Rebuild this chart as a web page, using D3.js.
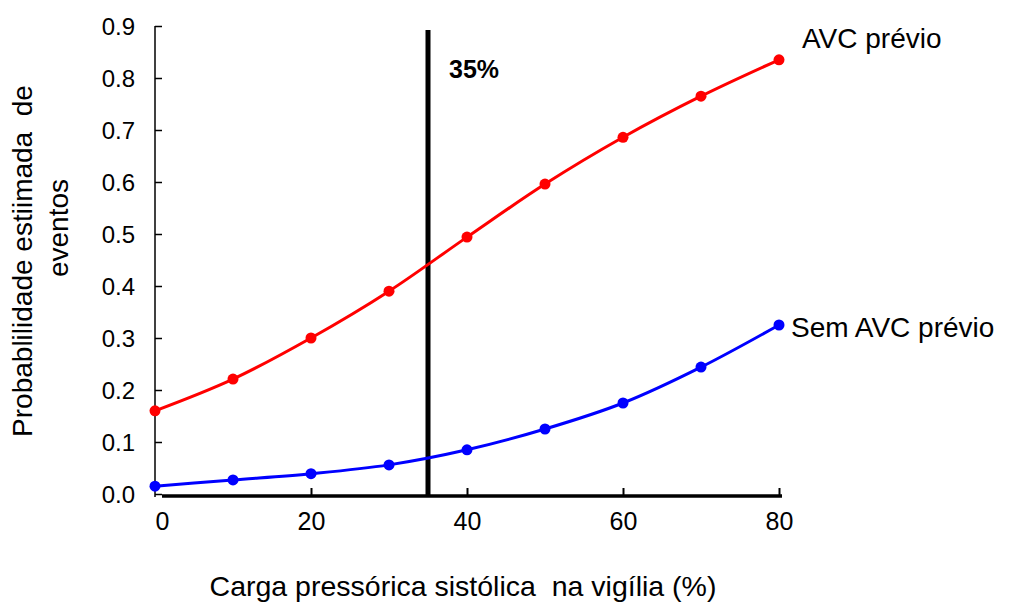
<!DOCTYPE html>
<html>
<head>
<meta charset="utf-8">
<script src="https://cdn.jsdelivr.net/npm/d3@7"></script>
<style>
  body { margin: 0; background: #fff; }
  svg { font-family: "Liberation Sans", Arial, sans-serif; }
</style>
</head>
<body>
<div id="chart"></div>
<script>
// Data
var cargas = [0, 10, 20, 30, 40, 50, 60, 70, 80];
var comAVC = [0.16, 0.221, 0.30, 0.39, 0.494, 0.596, 0.686, 0.765, 0.835];
var semAVC = [0.015, 0.027, 0.039, 0.056, 0.085, 0.125, 0.175, 0.244, 0.325];
var xTicks = [0, 20, 40, 60, 80];
var yTicks = [0, 0.1, 0.2, 0.3, 0.4, 0.5, 0.6, 0.7, 0.8, 0.9];
var corte = 35;

var width = 1009, height = 603;

var svg = d3.select('#chart').append('svg')
  .attr('width', width)
  .attr('height', height);

var x = d3.scaleLinear().domain([0, 80]).range([155, 779]);
var y = d3.scaleLinear().domain([0, 0.9]).range([494, 26]);

// Y axis: thin line, ticks pointing inward
var yAxis = svg.append('g')
  .attr('transform', 'translate(155,0)')
  .call(d3.axisRight(y).tickValues(yTicks).tickFormat(d3.format('.1f')).tickSize(7).tickSizeOuter(0));
yAxis.select('.domain').remove();
yAxis.selectAll('.tick line').attr('stroke', '#000').attr('stroke-width', 1.5);
yAxis.selectAll('.tick text')
  .attr('x', -20).attr('dy', '0.36em').attr('text-anchor', 'end')
  .attr('font-size', 24).attr('fill', '#000');
svg.append('line')
  .attr('x1', 155).attr('x2', 155).attr('y1', y(0.9)).attr('y2', 497)
  .attr('stroke', '#000').attr('stroke-width', 1.5);

// X axis: thick line, ticks pointing up
var xAxis = svg.append('g')
  .attr('transform', 'translate(0,496)')
  .call(d3.axisTop(x).tickValues(xTicks).tickSize(8).tickSizeOuter(0));
xAxis.select('.domain').remove();
xAxis.selectAll('.tick line').attr('stroke', '#000').attr('stroke-width', 2);
xAxis.selectAll('.tick').filter(function (d) { return d === 0; }).select('line').remove();
xAxis.selectAll('.tick text')
  .attr('y', 34).attr('dy', 0).attr('font-size', 25).attr('fill', '#000')
  .attr('dx', function (d) { return d === 0 ? 7 : 0; });
svg.append('line')
  .attr('x1', 162).attr('x2', x(80) + 3).attr('y1', 496).attr('y2', 496)
  .attr('stroke', '#000').attr('stroke-width', 3.5);

// Cut-off line at 35%
svg.append('line')
  .attr('x1', x(corte)).attr('x2', x(corte))
  .attr('y1', 30).attr('y2', 496)
  .attr('stroke', '#000').attr('stroke-width', 5);
svg.append('text')
  .attr('x', x(corte) + 21).attr('y', 78)
  .attr('font-size', 25).attr('font-weight', 'bold')
  .text('35%');

// Series
var line = d3.line()
  .x(function (d) { return x(d[0]); })
  .y(function (d) { return y(d[1]); })
  .curve(d3.curveMonotoneX);

function drawSeries(values, color) {
  var pts = cargas.map(function (c, i) { return [c, values[i]]; });
  svg.append('path')
    .datum(pts)
    .attr('d', line)
    .attr('fill', 'none')
    .attr('stroke', color)
    .attr('stroke-width', 3);
  svg.append('g').selectAll('circle')
    .data(pts)
    .join('circle')
    .attr('cx', function (d) { return x(d[0]); })
    .attr('cy', function (d) { return y(d[1]); })
    .attr('r', 5.5)
    .attr('fill', color);
}
drawSeries(comAVC, '#ff0000');
drawSeries(semAVC, '#0000ff');

// Series labels
svg.append('text')
  .attr('x', 802).attr('y', 48)
  .attr('font-size', 28)
  .text('AVC prévio');
svg.append('text')
  .attr('x', 791).attr('y', 337)
  .attr('font-size', 28)
  .text('Sem AVC prévio');

// Axis titles
svg.append('text')
  .attr('transform', 'translate(32,261) rotate(-90)')
  .attr('text-anchor', 'middle')
  .attr('font-size', 28)
  .style('white-space', 'pre')
  .text('Probablilidade estiimada  de');
svg.append('text')
  .attr('transform', 'translate(68,228) rotate(-90)')
  .attr('text-anchor', 'middle')
  .attr('font-size', 28)
  .text('eventos');
svg.append('text')
  .attr('x', 463).attr('y', 596)
  .attr('text-anchor', 'middle')
  .attr('font-size', 28.5)
  .style('white-space', 'pre')
  .text('Carga pressórica sistólica  na vigília (%)');
</script>
</body>
</html>
